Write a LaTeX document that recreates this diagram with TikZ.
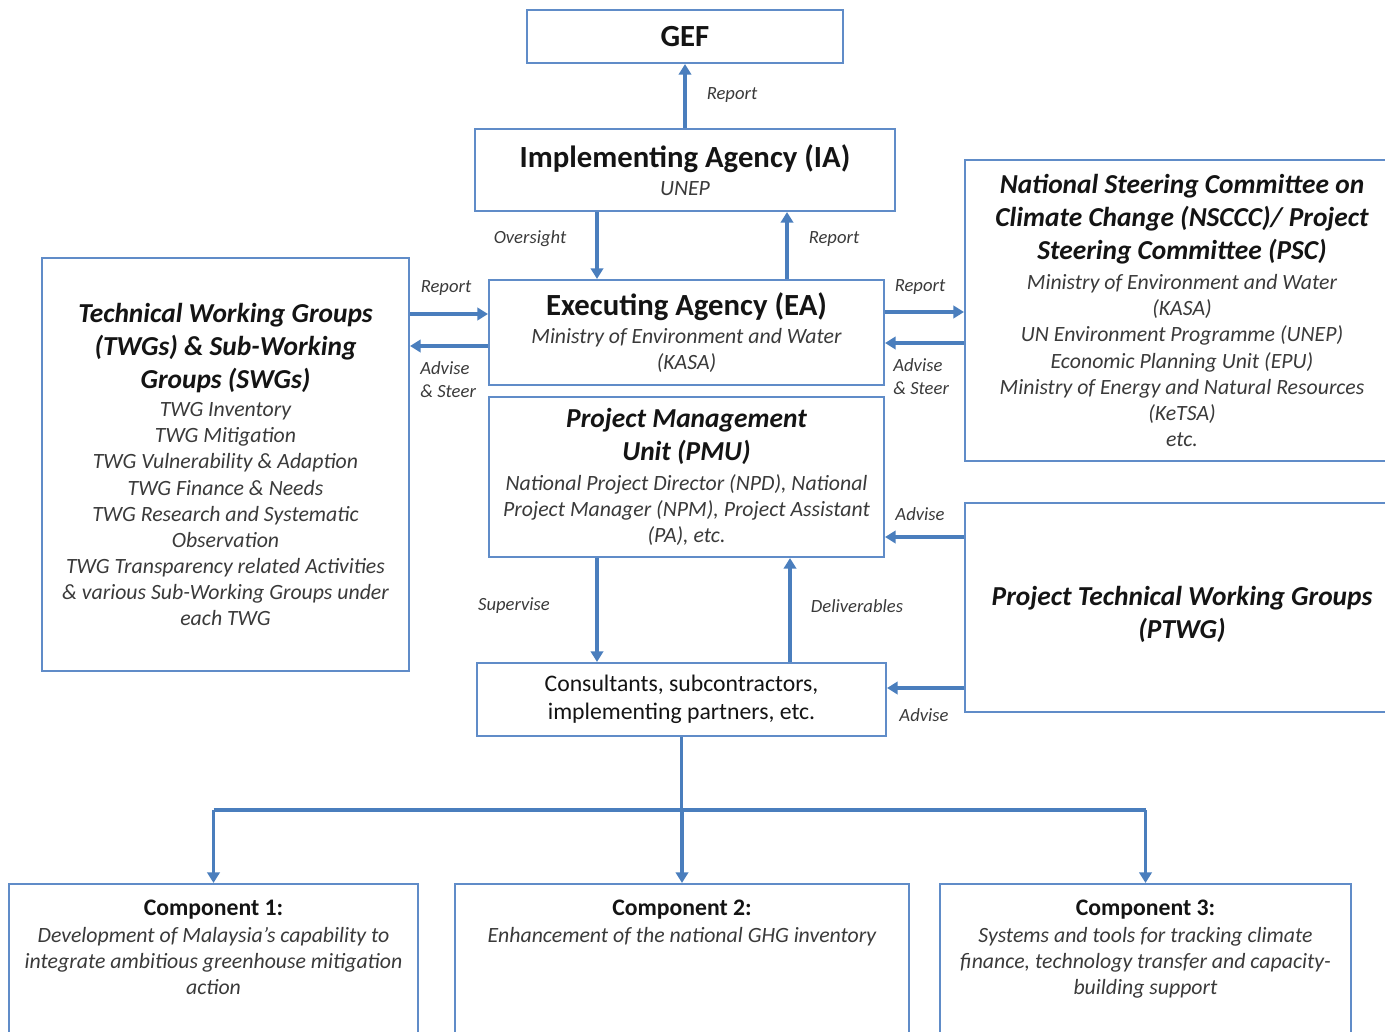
\documentclass[tikz,border=0pt]{standalone}
\usepackage{fontspec}
\setmainfont{Carlito}
\usepackage{xcolor}
\usepackage{tikz}
\usetikzlibrary{arrows.meta,calc}

\definecolor{boxblue}{RGB}{96,140,200}
\definecolor{arrblue}{RGB}{74,126,189}
\definecolor{txtdark}{RGB}{20,20,20}
\definecolor{txtbody}{RGB}{58,58,58}

\newcommand{\fsBig}{\fontsize{17.5}{19}\selectfont}
\newcommand{\fsTtl}{\fontsize{15.6}{18.7}\selectfont}
\newcommand{\fsBody}{\fontsize{12.4}{14.9}\selectfont}
\newcommand{\fsCons}{\fontsize{13.5}{15.9}\selectfont}
\newcommand{\fsComp}{\fontsize{13.5}{14.9}\selectfont}
\newcommand{\fsLbl}{\fontsize{10.6}{13}\selectfont}
\newcommand{\bigttl}[1]{{\fsBig\bfseries\upshape\color{txtdark}#1}}
\newcommand{\boxttl}[1]{{\fsTtl\bfseries\itshape\color{txtdark}#1}}

\tikzset{
	box/.style={draw=boxblue, line width=1.2pt, fill=white, align=center, text=txtbody, inner sep=2pt},
	arr/.style={draw=arrblue, line width=1.8pt, -{Triangle[width=7pt,length=6pt]}},
	lnk/.style={draw=arrblue, line width=1.8pt},
	lbl/.style={font=\fsLbl\itshape, text=txtbody, inner sep=0pt, align=left},
	comptxt/.style={anchor=north, align=center, text=txtbody, font=\fsBody\itshape, inner sep=0pt}
}

\begin{document}
\begin{tikzpicture}[x=0.02cm, y=-0.02cm]

\useasboundingbox (0,0) rectangle (1385,1031);

\node[box, minimum width=6.32cm, minimum height=1.06cm] (gef) at (685,36.5) {\bigttl{GEF}};

\node[box, minimum width=8.4cm, minimum height=1.64cm, font=\fsBody\itshape] (ia) at (685,170)
	{\bigttl{Implementing Agency (IA)}\\[0.9pt] UNEP};

\node[box, minimum width=7.9cm, minimum height=2.1cm, font=\fsBody\itshape] (ea) at (686.5,332.5)
	{\bigttl{Executing Agency (EA)}\\[0.7pt] Ministry of Environment and Water\\ (KASA)};

\node[box, minimum width=7.9cm, minimum height=3.2cm, font=\fsBody\itshape] (pmu) at (686.5,477)
	{\boxttl{Project Management}\\[4pt] \boxttl{Unit (PMU)}\\[2pt]
	National Project Director (NPD), National\\ Project Manager (NPM), Project Assistant\\ (PA), etc.};

\node[box, minimum width=7.34cm, minimum height=8.26cm, font=\fsBody\itshape] (twg) at (225.5,464.5)
	{\boxttl{Technical Working Groups}\\[4pt] \boxttl{(TWGs) \& Sub-Working}\\[4pt]
	\boxttl{Groups (SWGs)}\\[1pt]
	TWG Inventory\\ TWG Mitigation\\ TWG Vulnerability \& Adaption\\
	TWG Finance \& Needs\\ TWG Research and Systematic\\ Observation\\
	TWG Transparency related Activities\\ \& various Sub-Working Groups under\\ each TWG};

\node[box, minimum width=8.68cm, minimum height=6.02cm, font=\fsBody\itshape] (nsc) at (1182,310.5)
	{\boxttl{National Steering Committee on}\\[4pt] \boxttl{Climate Change (NSCCC)/ Project}\\[4pt]
	\boxttl{Steering Committee (PSC)}\\[2pt]
	Ministry of Environment and Water\\ (KASA)\\ UN Environment Programme (UNEP)\\
	Economic Planning Unit (EPU)\\ Ministry of Energy and Natural Resources\\ (KeTSA)\\ etc.};

\node[box, minimum width=8.68cm, minimum height=4.18cm, font=\fsTtl\bfseries\itshape, text=txtdark] (ptwg) at (1182,607.5)
	{\rule{0pt}{18.5pt}Project Technical Working Groups\\ (PTWG)};

\node[box, minimum width=8.18cm, minimum height=1.46cm, font=\fsCons, text=txtdark] (cons) at (681.5,699.5)
	{Consultants, subcontractors,\\ implementing partners, etc.};

\node[box, minimum width=8.18cm, minimum height=3.52cm] (c1) at (213.5,972) {};
\node[box, minimum width=9.08cm, minimum height=3.52cm] (c2) at (682,972) {};
\node[box, minimum width=8.22cm, minimum height=3.52cm] (c3) at (1145.5,972) {};

\node[comptxt] (c1t) at ($(c1.north)+(0,17)$)
	{{\fsComp\upshape\bfseries\color{txtdark}Component 1:}\\ Development of Malaysia’s capability to\\ integrate ambitious greenhouse mitigation\\ action};
\node[comptxt] (c2t) at ($(c2.north)+(0,17)$)
	{{\fsComp\upshape\bfseries\color{txtdark}Component 2:}\\ Enhancement of the national GHG inventory};
\node[comptxt] (c3t) at ($(c3.north)+(0,17)$)
	{{\fsComp\upshape\bfseries\color{txtdark}Component 3:}\\ Systems and tools for tracking climate\\ finance, technology transfer and capacity-\\ building support};

\coordinate (o1) at ($(ia.south)+(-88,0)$);
\coordinate (u1) at ($(ia.south)+(102,0)$);
\coordinate (r1) at ($(ea.west)+(0,-18.5)$);
\coordinate (a1) at ($(ea.west)+(0,13.5)$);
\coordinate (r2) at ($(ea.east)+(0,-20.5)$);
\coordinate (a2) at ($(ea.east)+(0,10.5)$);
\coordinate (a3) at ($(pmu.east)+(0,60)$);
\coordinate (s1) at ($(pmu.south)+(-89.5,0)$);
\coordinate (d1) at ($(pmu.south)+(103.5,0)$);
\coordinate (a4) at ($(cons.east)+(0,-11.5)$);
\coordinate (bus) at (683,810);

\draw[arr] (ia.north) -- (gef.south);
\draw[arr] (o1) -- (o1 |- ea.north);
\draw[arr] (u1 |- ea.north) -- (u1);
\draw[arr] (twg.east |- r1) -- (r1);
\draw[arr] (a1) -- (twg.east |- a1);
\draw[arr] (r2) -- (nsc.west |- r2);
\draw[arr] (nsc.west |- a2) -- (a2);
\draw[arr] (ptwg.west |- a3) -- (a3);
\draw[arr] (s1) -- (s1 |- cons.north);
\draw[arr] (d1 |- cons.north) -- (d1);
\draw[arr] (ptwg.west |- a4) -- (a4);

\draw[lnk] (cons.south) -- (cons.south |- bus);
\draw[lnk] (c1.north |- bus) -- (c3.north |- bus);
\foreach \c in {c1,c2,c3}{
	\draw[arr] (\c.north |- bus) -- (\c.north);
}

\node[lbl] (l1) at (732,95) {Report};
\node[lbl] (l2) at (530,239) {Oversight};
\node[lbl] (l3) at (834,239) {Report};
\node[lbl] (l4) at (446,288) {Report};
\node[lbl, anchor=west] (l5) at (420,379.5) {Advise\\ \& Steer};
\node[lbl] (l6) at (920,287) {Report};
\node[lbl, anchor=west] (l7) at (893,376.5) {Advise\\ \& Steer};
\node[lbl] (l8) at (920,514) {Advise};
\node[lbl] (l9) at (514,606) {Supervise};
\node[lbl] (l10) at (857,606) {Deliverables};
\node[lbl] (l11) at (924,715) {Advise};

\end{tikzpicture}
\end{document}
